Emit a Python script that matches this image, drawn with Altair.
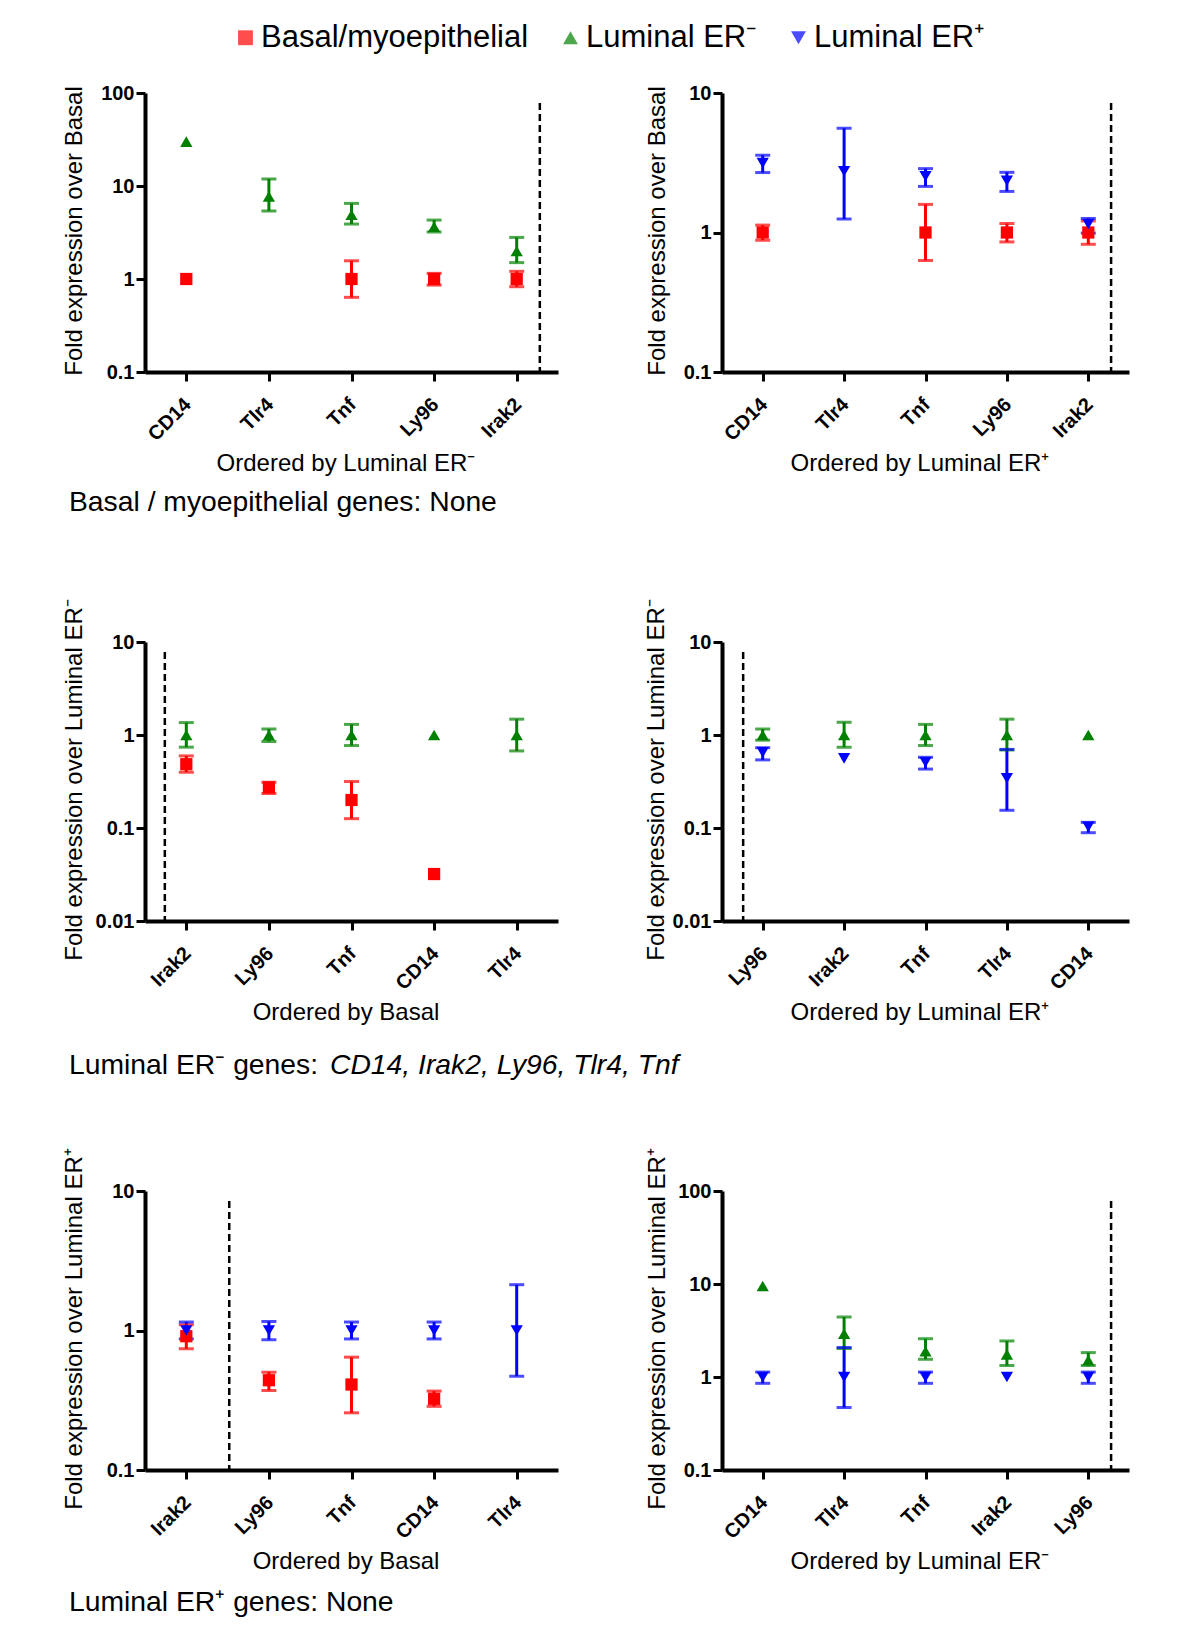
import altair as alt
import pandas as pd

FONT = "Liberation Sans, Arial, sans-serif"

SERIES = ["Basal/myoepithelial", "Luminal ER⁻", "Luminal ER⁺"]
COLORS = ["#ff0000", "#008000", "#0000ff"]
SHAPES = ["square", "triangle-up", "triangle-down"]

# ---- Panel A: fold over Basal, ordered by Luminal ER- ----
A_GENES = ["CD14", "Tlr4", "Tnf", "Ly96", "Irak2"]
A_BASAL = [1, None, 1, 1, 1]
A_BASAL_LO = [None, None, 0.635, 0.86, 0.826]
A_BASAL_HI = [None, None, 1.57, 1.15, 1.21]
A_LNEG = [30, 7.7, 4.9, 3.65, 2.0]
A_LNEG_LO = [None, 5.4, 3.9, 3.2, 1.5]
A_LNEG_HI = [None, 11.9, 6.5, 4.3, 2.8]

# ---- Panel B: fold over Basal, ordered by Luminal ER+ ----
B_GENES = ["CD14", "Tlr4", "Tnf", "Ly96", "Irak2"]
B_BASAL = [1, None, 1, 1, 1]
B_BASAL_LO = [0.88, None, 0.63, 0.856, 0.823]
B_BASAL_HI = [1.13, None, 1.59, 1.16, 1.21]
B_LPOS = [3.15, 2.75, 2.53, 2.35, 1.15]
B_LPOS_LO = [2.69, 1.25, 2.14, 1.97, 0.99]
B_LPOS_HI = [3.58, 5.58, 2.87, 2.70, 1.26]

# ---- Panel C: fold over Luminal ER-, ordered by Basal ----
C_GENES = ["Irak2", "Ly96", "Tnf", "CD14", "Tlr4"]
C_BASAL = [0.485, 0.273, 0.20, 0.032, None]
C_BASAL_LO = [0.398, 0.235, 0.126, None, None]
C_BASAL_HI = [0.596, 0.31, 0.316, None, None]
C_LNEG = [1, 1, 1, 1, 1]
C_LNEG_LO = [0.74, 0.85, 0.77, None, 0.674]
C_LNEG_HI = [1.36, 1.16, 1.30, None, 1.48]

# ---- Panel D: fold over Luminal ER-, ordered by Luminal ER+ ----
D_GENES = ["Ly96", "Irak2", "Tnf", "Tlr4", "CD14"]
D_LNEG = [1, 1, 1, 1, 1]
D_LNEG_LO = [0.88, 0.74, 0.77, 0.69, None]
D_LNEG_HI = [1.16, 1.37, 1.30, 1.48, None]
D_LPOS = [0.65, 0.56, 0.51, 0.343, 0.103]
D_LPOS_LO = [0.54, None, 0.43, 0.155, 0.089]
D_LPOS_HI = [0.73, None, 0.576, 0.70, 0.115]

# ---- Panel E: fold over Luminal ER+, ordered by Basal ----
E_GENES = ["Irak2", "Ly96", "Tnf", "CD14", "Tlr4"]
E_BASAL = [0.91, 0.44, 0.41, 0.324, None]
E_BASAL_LO = [0.74, 0.372, 0.257, 0.286, None]
E_BASAL_HI = [1.10, 0.503, 0.644, 0.368, None]
E_LPOS = [1, 1, 1, 1, 1]
E_LPOS_LO = [0.87, 0.86, 0.87, 0.87, 0.47]
E_LPOS_HI = [1.15, 1.16, 1.15, 1.15, 2.13]

# ---- Panel F: fold over Luminal ER+, ordered by Luminal ER- ----
F_GENES = ["CD14", "Tlr4", "Tnf", "Irak2", "Ly96"]
F_LNEG = [9.5, 2.92, 1.89, 1.75, 1.52]
F_LNEG_LO = [None, 2.03, 1.55, 1.33, 1.33]
F_LNEG_HI = [None, 4.42, 2.58, 2.44, 1.83]
F_LPOS = [1, 1, 1, 1, 1]
F_LPOS_LO = [0.855, 0.47, 0.855, None, 0.855]
F_LPOS_HI = [1.13, 2.07, 1.13, None, 1.13]

# divider positions (in category units, 0..5)
DIVIDERS = [4.78, 4.78, 0.24, 0.26, 1.02, 4.78]

FOOT_1 = "Basal / myoepithelial genes: None"
FOOT_2A = "Luminal ER⁻ genes:"
FOOT_2B = "CD14, Irak2, Ly96, Tlr4, Tnf"
FOOT_3 = "Luminal ER⁺ genes: None"

H = 279
W_LEFT = 413
W_RIGHT = 407


def frames(genes, series):
    rows = []
    for name, mean, lo, hi in series:
        for i, g in enumerate(genes):
            rows.append(dict(gene=g, pos=i + 0.5, series=name,
                             mean=mean[i], lo=lo[i], hi=hi[i]))
    df = pd.DataFrame(rows)
    pts = df[df["mean"].notna()].drop(columns=["lo", "hi"])
    err = df[df["lo"].notna()].drop(columns=["mean"])
    return pts, err


def panel(genes, series, ydomain, yticks, divider, ytitle, xtitle, width,
          ytitle_x, foot_layers=()):
    pts, err = frames(genes, series)
    n = len(genes)
    label_expr = " : ".join(
        f"datum.value < {i + 1} ? '{g}'" for i, g in enumerate(genes[:-1])
    ) + f" : '{genes[-1]}'"
    xscale = alt.Scale(domain=[0, n], nice=False, zero=False)
    xaxis = alt.Axis(values=[i + 0.5 for i in range(n)], labelExpr=label_expr,
                     labelAngle=-45, labelAlign="right", labelBaseline="top",
                     labelPadding=13, labelOffset=-6,
                     labelFlush=False, labelOverlap=False,
                     title=xtitle, titleY=98, titleBaseline="alphabetic",
                     titleX=width / 2 - 6,
                     grid=False)
    yscale = alt.Scale(type="log", domain=ydomain, nice=False)
    yaxis = alt.Axis(values=yticks, format="~g", title=ytitle,
                     titleX=ytitle_x, titleY=H / 2 - 2, titleAlign="center",
                     titleBaseline="middle", labelFlush=False,
                     labelOverlap=False, grid=False)
    color = alt.Color("series:N", scale=alt.Scale(domain=SERIES, range=COLORS),
                      legend=alt.Legend(title=None))
    shape = alt.Shape("series:N", scale=alt.Scale(domain=SERIES, range=SHAPES),
                      legend=alt.Legend(title=None))

    div = alt.Chart(pd.DataFrame({"d": [divider]})).mark_rule(
        color="black", strokeWidth=2.5, strokeDash=[7, 4]
    ).encode(x=alt.X("d:Q", scale=xscale, axis=xaxis),
             y=alt.value(10), y2=alt.value(H))

    rules = alt.Chart(err).mark_rule(strokeWidth=3).encode(
        x=alt.X("pos:Q", scale=xscale, axis=xaxis),
        y=alt.Y("lo:Q", scale=yscale, axis=yaxis),
        y2="hi:Q",
        color=color,
    )
    cap_lo = alt.Chart(err).mark_tick(orient="horizontal", size=15,
                                      thickness=3).encode(
        x=alt.X("pos:Q", scale=xscale, axis=xaxis),
        y=alt.Y("lo:Q", scale=yscale, axis=yaxis),
        color=color,
    )
    cap_hi = alt.Chart(err).mark_tick(orient="horizontal", size=15,
                                      thickness=3).encode(
        x=alt.X("pos:Q", scale=xscale, axis=xaxis),
        y=alt.Y("hi:Q", scale=yscale, axis=yaxis),
        color=color,
    )
    points = alt.Chart(pts).mark_point(filled=True, opacity=1, size=150).encode(
        x=alt.X("pos:Q", scale=xscale, axis=xaxis),
        y=alt.Y("mean:Q", scale=yscale, axis=yaxis),
        color=color,
        shape=shape,
    )
    layers = [div, rules, cap_lo, cap_hi, points] + list(foot_layers)
    return alt.layer(*layers).properties(width=width, height=H)


def foot_text(text, x, y, italic=False):
    return alt.Chart(pd.DataFrame({"t": [text]})).mark_text(
        align="left", baseline="alphabetic", fontSize=28.3, font=FONT,
        fontStyle="italic" if italic else "normal", color="black"
    ).encode(text="t:N", x=alt.value(x), y=alt.value(y))


pA = panel(A_GENES, [(SERIES[0], A_BASAL, A_BASAL_LO, A_BASAL_HI),
                     (SERIES[1], A_LNEG, A_LNEG_LO, A_LNEG_HI)],
           [0.1, 100], [0.1, 1, 10, 100], DIVIDERS[0],
           "Fold expression over Basal", "Ordered by Luminal ER⁻", W_LEFT, -71,
           [foot_text(FOOT_1, -76, 418)])
pB = panel(B_GENES, [(SERIES[0], B_BASAL, B_BASAL_LO, B_BASAL_HI),
                     (SERIES[2], B_LPOS, B_LPOS_LO, B_LPOS_HI)],
           [0.1, 10], [0.1, 1, 10], DIVIDERS[1],
           "Fold expression over Basal", "Ordered by Luminal ER⁺", W_RIGHT, -65)
pC = panel(C_GENES, [(SERIES[0], C_BASAL, C_BASAL_LO, C_BASAL_HI),
                     (SERIES[1], C_LNEG, C_LNEG_LO, C_LNEG_HI)],
           [0.01, 10], [0.01, 0.1, 1, 10], DIVIDERS[2],
           "Fold expression over Luminal ER⁻", "Ordered by Basal", W_LEFT, -71,
           [foot_text(FOOT_2A, -76, 432), foot_text(FOOT_2B, 185, 432, True)])
pD = panel(D_GENES, [(SERIES[1], D_LNEG, D_LNEG_LO, D_LNEG_HI),
                     (SERIES[2], D_LPOS, D_LPOS_LO, D_LPOS_HI)],
           [0.01, 10], [0.01, 0.1, 1, 10], DIVIDERS[3],
           "Fold expression over Luminal ER⁻", "Ordered by Luminal ER⁺", W_RIGHT, -66)
pE = panel(E_GENES, [(SERIES[0], E_BASAL, E_BASAL_LO, E_BASAL_HI),
                     (SERIES[2], E_LPOS, E_LPOS_LO, E_LPOS_HI)],
           [0.1, 10], [0.1, 1, 10], DIVIDERS[4],
           "Fold expression over Luminal ER⁺", "Ordered by Basal", W_LEFT, -71,
           [foot_text(FOOT_3, -76, 420)])
pF = panel(F_GENES, [(SERIES[1], F_LNEG, F_LNEG_LO, F_LNEG_HI),
                     (SERIES[2], F_LPOS, F_LPOS_LO, F_LPOS_HI)],
           [0.1, 100], [0.1, 1, 10, 100], DIVIDERS[5],
           "Fold expression over Luminal ER⁺", "Ordered by Luminal ER⁻", W_RIGHT, -65)

chart = alt.concat(
    pA, pB, pC, pD, pE, pF, columns=2,
    spacing={"row": 270, "column": 164}, bounds="flush",
).properties(
    padding={"left": 53, "top": 14, "right": 10, "bottom": 10},
    background="white",
).configure_view(stroke=None).configure_axis(
    domainColor="black", domainWidth=4, tickColor="black", tickWidth=3,
    tickSize=9, labelFont=FONT, labelFontSize=20, labelFontWeight="bold",
    labelColor="black", titleFont=FONT, titleFontSize=24,
    titleFontWeight="normal", titleColor="black",
).configure_legend(
    orient="none", legendX=85, legendY=-71, direction="horizontal",
    labelFont=FONT, labelFontSize=31, labelColor="black", labelLimit=600,
    symbolSize=220, symbolStrokeWidth=0, labelOffset=0, columnPadding=26,
    padding=0,
)

chart.save("out.html", embed_options={"renderer": "svg", "actions": False})
